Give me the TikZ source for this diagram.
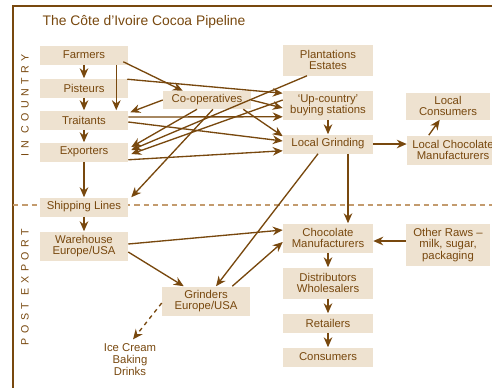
\documentclass[tikz,border=0pt]{standalone}
\usepackage{fontspec}
\setmainfont{Liberation Sans}
\usetikzlibrary{positioning,arrows.meta,calc}
\definecolor{cocoabrown}{RGB}{120,72,14}
\definecolor{cocoalight}{RGB}{238,226,208}
\definecolor{cocoadash}{RGB}{195,155,110}

\begin{document}
\begin{tikzpicture}[
  x=0.75pt,y=-0.75pt,
  >={Stealth[length=7.5pt,width=6.5pt]},
  stage/.style={fill=cocoalight,draw=none,text=cocoabrown,font=\fontsize{8.5}{8.5}\selectfont,align=center,inner sep=1pt,minimum width=66pt,minimum height=14.25pt},
  stage2/.style={stage,minimum width=67.5pt,minimum height=21.75pt},
  plain lab/.style={text=cocoabrown,font=\fontsize{8.5}{9}\selectfont,align=center,inner sep=1pt},
  side lab/.style={rotate=90,text=cocoabrown,font=\fontsize{8}{9}\selectfont\addfontfeatures{LetterSpace=42}},
  flow/.style={->,cocoabrown,line width=1pt},
  frame/.style={cocoabrown,line width=1.4pt},
  border line/.style={cocoadash,line width=0.9pt,dash pattern=on 4pt off 3pt}
]
\useasboundingbox (0,0) rectangle (492,387);

% Frame and the export border
\draw[frame] (13,390) -- (13,6) -- (495,6);
\draw[border line] (13,205) -- (495,205);

% Title and side labels
\node[anchor=west,text=cocoabrown,font=\fontsize{10.4}{12}\selectfont] (title) at (38,22) {The Côte d'Ivoire Cocoa Pipeline};
\node[side lab] (incountry) at (25,105) {IN COUNTRY};
\node[side lab] (postexport) at (25,287) {POST EXPORT};

% Left column: farm gate to warehouse
\node[stage] (farmers) at (84,55) {Farmers};
\node[stage] (pisteurs) at (84,88) {Pisteurs};
\node[stage] (traitants) at (84,120) {Traitants};
\node[stage] (exporters) at (84,152) {Exporters};
\node[stage] (shipping) at (84,207) {Shipping Lines};
\node[stage,minimum height=21.75pt] (warehouse) at (84,246) {Warehouse\\Europe/USA};

% Middle: co-operatives and grinders abroad
\node[stage,minimum height=13.5pt] (coop) at (207,100) {Co-operatives};
\node[stage,minimum height=21.75pt] (grinders) at (206,301) {Grinders\\Europe/USA};
\node[plain lab] (icecream) at (130,360) {Ice Cream\\Baking\\Drinks};

% Right column: local processing and chocolate chain
\node[stage2,minimum height=23.25pt] (plantations) at (328,60) {Plantations\\Estates};
\node[stage2] (upcountry) at (328,105) {`Up-country'\\buying stations};
\node[stage2,minimum height=14.25pt] (localgrind) at (328,144) {Local Grinding};
\node[stage2] (chocman) at (328,238) {Chocolate\\Manufacturers};
\node[stage2,minimum height=23.25pt] (distrib) at (328,283) {Distributors\\Wholesalers};
\node[stage2,minimum height=14.25pt] (retailers) at (328,323) {Retailers};
\node[stage2,minimum height=14.25pt] (consumers) at (328,357) {Consumers};

% Far right
\node[stage,minimum width=63pt,minimum height=20.25pt] (localcons) at (448,106) {Local\\Consumers};
\node[stage,minimum width=69pt,minimum height=21.75pt] (localchoc) at (453,150) {Local Chocolate\\Manufacturers};
\node[stage,minimum width=63pt,minimum height=31.5pt] (otherraws) at (448,245) {Other Raws --\\milk, sugar,\\packaging};

% Left chain
\draw[flow] (farmers) -- (pisteurs);
\draw[flow] (pisteurs) -- (traitants);
\draw[flow] (traitants) -- (exporters);
\draw[flow] (exporters) -- (shipping);
\draw[flow] (shipping) -- (warehouse);
\draw[flow] ($(farmers.south east)+(-12,0)$) -- ($(traitants.north east)+(-12,0)$);

% Crossing flows in country
\draw[flow] ($(farmers.south east)+(-5,-3)$) -- ($(coop.north west)+(20,0)$);
\draw[flow] ($(pisteurs.north east)+(-1,1)$) -- ($(upcountry.north west)+(0,3)$);
\draw[flow] (coop.west) -- ($(traitants.north east)+(2,2)$);
\draw[flow] ($(coop.south)+(-10,0)$) -- ($(exporters.east)+(3,-5)$);
\draw[flow] ($(coop.south)+(6,0)$) -- ($(shipping.north east)+(3,0)$);
\draw[flow] (coop.east) -- ($(upcountry.west)+(0,3)$);
\draw[flow] ($(coop.south east)+(-8,0)$) -- ($(localgrind.north west)+(0,2)$);
\draw[flow] ($(traitants.east)+(0,-3)$) -- ($(upcountry.south west)+(0,-3)$);
\draw[flow] ($(traitants.east)+(0,2)$) -- ($(localgrind.west)+(0,-3)$);
\draw[flow] ($(exporters.south east)+(0,-2)$) -- ($(localgrind.south west)+(0,-3)$);
\draw[flow] ($(plantations.south)+(-21,0)$) -- ($(exporters.east)+(3,-2)$);
\draw[flow] ($(upcountry.west)+(0,-5)$) -- ($(exporters.east)+(3,2)$);
\draw[flow] (upcountry) -- (localgrind);

% Local processing
\draw[flow] (localgrind.east) -- (localgrind.east -| localchoc.west);
\draw[flow] ($(localchoc.north west)+(22,0)$) -- ($(localcons.south west)+(34,0)$);
\draw[flow] ($(localgrind.south)+(20,0)$) -- ($(chocman.north)+(20,0)$);
\draw[flow] ($(localgrind.south)+(-10,0)$) -- ($(grinders.north)+(10,0)$);

% Post export
\draw[flow] ($(warehouse.east)+(0,-2)$) -- ($(chocman.west)+(0,-8)$);
\draw[flow] ($(warehouse.east)+(0,6)$) -- ($(grinders.north west)+(22,0)$);
\draw[flow] ($(grinders.north east)+(-18,0)$) -- ($(chocman.west)+(0,4)$);
\draw[flow,dashed] ($(grinders.west)+(0,2)$) -- ($(icecream.north)+(3,-3)$);
\draw[flow] ($(otherraws.west)+(0,-4)$) -- ($(chocman.east)+(0,3)$);
\draw[flow] (chocman) -- (distrib);
\draw[flow] (distrib) -- (retailers);
\draw[flow] (retailers) -- (consumers);

\end{tikzpicture}
\end{document}
